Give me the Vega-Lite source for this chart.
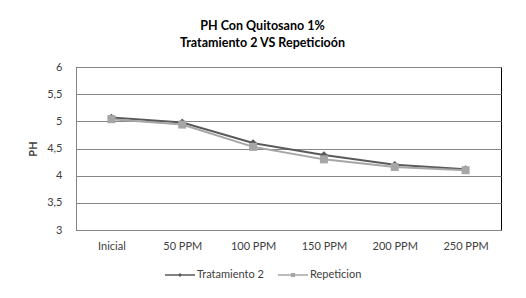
{
  "$schema": "https://vega.github.io/schema/vega-lite/v6.json",
  "width": 425,
  "height": 163,
  "autosize": {"type": "none"},
  "padding": {"left": 76, "top": 67, "right": 25, "bottom": 68},
  "background": "white",
  "title": {
    "text": ["PH Con Quitosano 1%", "Tratamiento 2 VS Repeticioón"],
    "font": "Lato",
    "fontSize": 12.5,
    "fontWeight": "bold",
    "color": "#000000",
    "lineHeight": 17,
    "anchor": "middle",
    "frame": "group",
    "dx": -26,
    "offset": 12
  },
  "config": {
    "view": {"stroke": "#000000", "strokeWidth": 1},
    "font": "Lato"
  },
  "data": {
    "values": [
      {"x": "Inicial", "serie": "Tratamiento 2", "ph": 5.07},
      {"x": "50 PPM", "serie": "Tratamiento 2", "ph": 4.98},
      {"x": "100 PPM", "serie": "Tratamiento 2", "ph": 4.60},
      {"x": "150 PPM", "serie": "Tratamiento 2", "ph": 4.38},
      {"x": "200 PPM", "serie": "Tratamiento 2", "ph": 4.20},
      {"x": "250 PPM", "serie": "Tratamiento 2", "ph": 4.12},
      {"x": "Inicial", "serie": "Repeticion", "ph": 5.04},
      {"x": "50 PPM", "serie": "Repeticion", "ph": 4.94},
      {"x": "100 PPM", "serie": "Repeticion", "ph": 4.53},
      {"x": "150 PPM", "serie": "Repeticion", "ph": 4.30},
      {"x": "200 PPM", "serie": "Repeticion", "ph": 4.16},
      {"x": "250 PPM", "serie": "Repeticion", "ph": 4.10}
    ]
  },
  "encoding": {
    "x": {
      "field": "x",
      "type": "ordinal",
      "sort": ["Inicial", "50 PPM", "100 PPM", "150 PPM", "200 PPM", "250 PPM"],
      "scale": {"type": "point", "padding": 0.5},
      "axis": {
        "title": null,
        "labelAngle": 0,
        "ticks": false,
        "domainColor": "#868686",
        "labelColor": "#404040",
        "labelFontSize": 11,
        "labelPadding": 10,
        "grid": false
      }
    },
    "y": {
      "field": "ph",
      "type": "quantitative",
      "scale": {"domain": [3, 6], "nice": false, "zero": false},
      "axis": {
        "title": "PH",
        "titleFontSize": 11,
        "titleFontWeight": "bold",
        "titleColor": "#404040",
        "titlePadding": 8,
        "values": [3, 3.5, 4, 4.5, 5, 5.5, 6],
        "labelExpr": "replace(format(datum.value, '~g'), '.', ',')",
        "ticks": false,
        "labelPadding": 14,
        "labelFontSize": 11,
        "labelColor": "#404040",
        "domainColor": "#868686",
        "gridColor": "#868686",
        "gridOpacity": 1
      }
    },
    "color": {
      "field": "serie",
      "type": "nominal",
      "sort": ["Tratamiento 2", "Repeticion"],
      "scale": {"domain": ["Tratamiento 2", "Repeticion"], "range": ["#595959", "#A6A6A6"]},
      "legend": {
        "title": null,
        "orient": "none",
        "direction": "horizontal",
        "legendX": 89,
        "legendY": 193,
        "symbolSize": 900,
        "symbolOpacity": 1,
        "symbolStrokeWidth": 0,
        "labelFontSize": 11,
        "labelColor": "#404040",
        "labelOffset": 2,
        "columnPadding": 14,
        "encode": {
          "symbols": {
            "update": {
              "opacity": {"value": 1},
              "fillOpacity": {"value": 1},
              "strokeOpacity": {"value": 0}
            }
          }
        }
      }
    }
  },
  "layer": [
    {
      "mark": {"type": "line", "strokeWidth": 2},
      "encoding": {
        "detail": {"field": "serie"}
      }
    },
    {
      "transform": [{"filter": "datum.serie === 'Tratamiento 2'"}],
      "mark": {"type": "point", "filled": true, "opacity": 1, "shape": "diamond", "size": 60}
    },
    {
      "transform": [{"filter": "datum.serie === 'Repeticion'"}],
      "mark": {"type": "point", "filled": true, "opacity": 1, "shape": "square", "size": 64}
    },
    {
      "mark": {"type": "point", "filled": true, "opacity": 0},
      "encoding": {
        "shape": {
          "field": "serie", "type": "nominal",
          "scale": {
            "domain": ["Tratamiento 2", "Repeticion"],
            "range": [
              "M-1,-0.05H1V0.05H-1Z M0,-0.14L0.14,0L0,0.14L-0.14,0Z",
              "M-1,-0.05H1V0.05H-1Z M-0.14,-0.14H0.14V0.14H-0.14Z"
            ]
          }
        }
      }
    }
  ]
}
